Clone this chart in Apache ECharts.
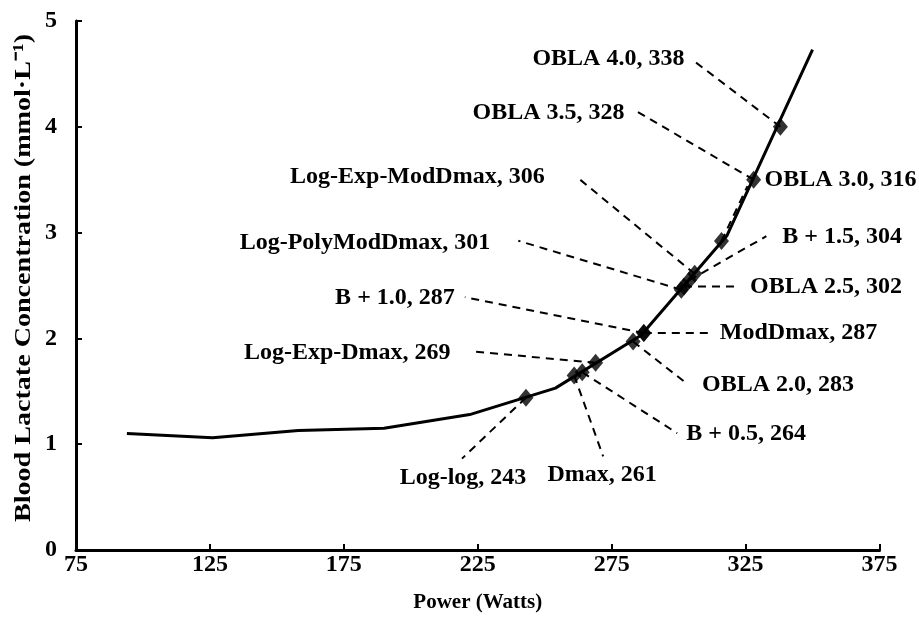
<!DOCTYPE html>
<html>
<head>
<meta charset="utf-8">
<script src="https://cdn.jsdelivr.net/npm/echarts@6/dist/echarts.min.js"></script>
<style>
  html, body { margin: 0; padding: 0; background: #fff; }
  #chart { width: 919px; height: 618px; }
</style>
</head>
<body>
<div id="chart"></div>
<script>
// Incremental exercise stages: power output (W) and blood lactate (mmol·L-1)
const stagePower   = [94, 126, 158, 190, 222, 254, 286, 318, 350];
const stageLactate = [1.10, 1.06, 1.13, 1.15, 1.28, 1.53, 2.03, 2.97, 4.73];

// Lactate threshold methods: power at threshold and lactate on the curve there
const methodNames = ['Log-log', 'Dmax', 'B + 0.5', 'Log-Exp-Dmax', 'OBLA 2.0', 'B + 1.0',
  'ModDmax', 'Log-PolyModDmax', 'OBLA 2.5', 'B + 1.5', 'Log-Exp-ModDmax', 'OBLA 3.0',
  'OBLA 3.5', 'OBLA 4.0'];
const methodPower   = [243, 261, 264, 269, 283, 287, 287, 301, 302, 304, 306, 316, 328, 338];
const methodLactate = [1.44, 1.65, 1.68, 1.77, 1.97, 2.05, 2.05, 2.46, 2.49, 2.55, 2.61, 2.92, 3.50, 4.00];

// Axis scales and titles
const xMin = 75, xMax = 375, xStep = 50;
const yMin = 0, yMax = 5, yStep = 1;
const xTitle = 'Power (Watts)';
const yTitle = 'Blood Lactate Concentration (mmol·L⁻¹)';

// Callout layout (pixel offsets from each marker): leader end, label anchor, text alignment
const calloutLayout = {
  'Log-log':         { lead: [-64, 61],   text: [-63, 80],   align: 'center' },
  'Dmax':            { lead: [29, 81],    text: [28, 99],    align: 'center' },
  'B + 0.5':         { lead: [95, 61],    text: [104, 62],   align: 'left' },
  'Log-Exp-Dmax':    { lead: [-120, -11], text: [-145, -10], align: 'right' },
  'OBLA 2.0':        { lead: [55, 43],    text: [69, 43],    align: 'left' },
  'B + 1.0':         { lead: [-179, -36], text: [-189, -35], align: 'right' },
  'ModDmax':         { lead: [67, 0],     text: [76, 0],     align: 'left' },
  'Log-PolyModDmax': { lead: [-163, -49], text: [-191, -47], align: 'right' },
  'OBLA 2.5':        { lead: [56, 0],     text: [66, 0],     align: 'left' },
  'B + 1.5':         { lead: [77, -44],   text: [93, -43],   align: 'left' },
  'Log-Exp-ModDmax': { lead: [-118, -97], text: [-150, -97], align: 'right' },
  'OBLA 3.0':        { lead: [26, -55],   text: [43, -61],   align: 'left' },
  'OBLA 3.5':        { lead: [-118, -69], text: [-129, -67], align: 'right' },
  'OBLA 4.0':        { lead: [-88, -67],  text: [-96, -68],  align: 'right' }
};

const FONT = '"Liberation Serif", "Times New Roman", serif';
const chart = echarts.init(document.getElementById('chart'), null, { renderer: 'canvas' });

const axisCommon = {
  axisLine: { show: true, lineStyle: { color: '#000', width: 3 } },
  axisTick: { show: true, inside: true, length: 6, lineStyle: { color: '#000', width: 2 } },
  splitLine: { show: false },
  axisLabel: { color: '#000', fontFamily: FONT, fontWeight: 'bold', fontSize: 24 }
};

chart.setOption({
  animation: false,
  backgroundColor: '#fff',
  grid: { left: 76, right: 39.5, top: 21, bottom: 67.5 },
  xAxis: Object.assign({}, axisCommon, {
    type: 'value', min: xMin, max: xMax, interval: xStep,
    name: xTitle, nameLocation: 'middle', nameGap: 42,
    nameTextStyle: { color: '#000', fontFamily: FONT, fontWeight: 'bold', fontSize: 21 },
    axisLabel: Object.assign({}, axisCommon.axisLabel, { margin: 3 })
  }),
  yAxis: Object.assign({}, axisCommon, {
    type: 'value', min: yMin, max: yMax, interval: yStep,
    axisLabel: Object.assign({}, axisCommon.axisLabel, { margin: 19 })
  }),
  series: [
    {
      type: 'line',
      data: stagePower.map((p, i) => [p, stageLactate[i]]),
      showSymbol: false,
      lineStyle: { color: '#000', width: 3 },
      z: 3
    },
    {
      type: 'scatter',
      data: methodPower.map((p, i) => [p, methodLactate[i]]),
      symbol: 'diamond',
      symbolSize: [15, 18],
      itemStyle: { color: '#000' },
      z: 4
    }
  ]
});

// Y-axis title, drawn tall and narrow along the axis
const graphics = [{
  type: 'text',
  x: 24, y: 278,
  rotation: Math.PI / 2,
  scaleX: 1.17,
  style: {
    text: yTitle, fill: '#000', font: 'bold 24px ' + FONT,
    textAlign: 'center', textVerticalAlign: 'middle'
  }
}];

// Dashed leader lines and callout labels, anchored to each marker's pixel position
methodNames.forEach((name, i) => {
  const pt = chart.convertToPixel({ gridIndex: 0 }, [methodPower[i], methodLactate[i]]);
  const lay = calloutLayout[name];
  graphics.push({
    type: 'line',
    z: 1,
    shape: { x1: pt[0], y1: pt[1], x2: pt[0] + lay.lead[0], y2: pt[1] + lay.lead[1] },
    style: { stroke: '#000', lineWidth: 2, lineDash: [8, 6] }
  });
  graphics.push({
    type: 'text',
    z: 5,
    x: pt[0] + lay.text[0],
    y: pt[1] + lay.text[1],
    style: {
      text: name + ', ' + methodPower[i],
      fill: '#000',
      font: 'bold 24px ' + FONT,
      textAlign: lay.align,
      textVerticalAlign: 'middle'
    }
  });
});
chart.setOption({ graphic: graphics });
</script>
</body>
</html>
